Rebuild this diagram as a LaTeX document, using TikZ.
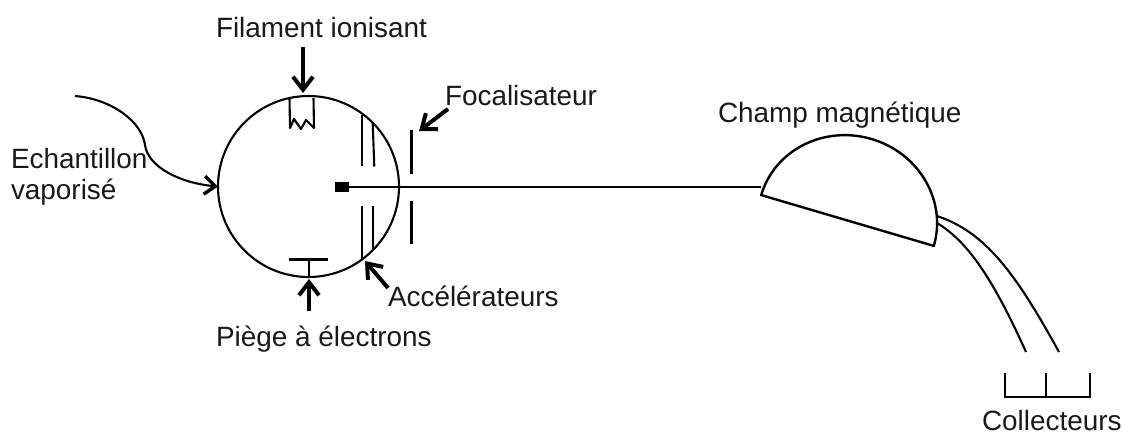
\documentclass[tikz,border=0pt]{standalone}
\usepackage{fontspec}
\setmainfont{Liberation Sans}
\usetikzlibrary{arrows.meta}
\tikzset{
  lab/.style={inner sep=0pt,outer sep=0pt,anchor=base west,align=left,font=\fontsize{27.9}{33}\selectfont,text=black!90},
  thin line/.style={draw=black,line width=2.1pt},
  plate/.style={draw=black,line width=3pt},
  pointer/.style={draw=black,line width=4pt,-{Straight Barb[length=13pt,width=20pt,line width=4pt]}},
  pt/.style={inner sep=0pt,outer sep=0pt,minimum size=0pt}
}
\begin{document}
\begin{tikzpicture}[x=1pt,y=-1pt]
\useasboundingbox (0,0) rectangle (1123,434);
% chamber
\node[circle,thin line,minimum size=181pt,inner sep=0pt,outer sep=0pt] (chamber) at (308.5,186.5) {};
% labels
\node[lab] (filament) at (216,37) {Filament ionisant};
\node[lab] (focal) at (445,105) {Focalisateur};
\node[lab] (champ) at (718,122) {Champ magnétique};
\node[lab] (echan) at (11,168.5) {Echantillon};
\node[lab] (vapor) at (11,199.5) {vaporisé};
\node[lab] (accel) at (388,306) {Accélérateurs};
\node[lab] (piege) at (216,346) {Piège à électrons};
\node[lab] (coll) at (982,430.5) {Collecteurs};
% filament
\coordinate (fa) at (289.5,98);
\coordinate (fb) at (290,128);
\coordinate (fc) at (294,119);
\coordinate (fd) at (301,129);
\coordinate (fe) at (306,120);
\coordinate (ff) at (314,128);
\coordinate (fg) at (313.5,98);
\draw[thin line,line join=round] (fa) -- (fb) -- (fc) -- (fd) -- (fe) -- (ff) -- (fg);
% accelerators
\coordinate (a1t) at (362,115); \coordinate (a1b) at (362,166);
\coordinate (a2t) at (372.7,123); \coordinate (a2b) at (374.3,166.5);
\coordinate (a3t) at (362,206); \coordinate (a3b) at (362,259);
\coordinate (a4t) at (373,206); \coordinate (a4b) at (373,249);
\draw[thin line] (a1t) -- (a1b);
\draw[thin line] (a2t) -- (a2b);
\draw[thin line] (a3t) -- (a3b);
\draw[thin line] (a4t) -- (a4b);
% focusing plates
\coordinate (p1t) at (411,130); \coordinate (p1b) at (411,174);
\coordinate (p2t) at (411,201); \coordinate (p2b) at (411,244);
\draw[plate] (p1t) -- (p1b);
\draw[plate] (p2t) -- (p2b);
% electron trap
\coordinate (tl) at (289,259.5); \coordinate (tr) at (328,259.5);
\coordinate (ts) at (309,259.5); \coordinate (tb) at (309,277);
\draw[thin line] (tl) -- (tr);
\draw[thin line] (ts) -- (tb);
% ion source and beam
\node[pt,fill=black,minimum width=14pt,minimum height=9.5pt] (source) at (342,187) {};
% magnet
\coordinate (m0) at (761.2,195.1);
\coordinate (m1) at (871.5,139);
\coordinate (m2) at (933.8,245.9);
\draw[thin line,line width=2.4pt,line join=round] (m0) .. controls (774.4,150.1) and (823.8,125) .. (m1)
  .. controls (919.2,153) and (947,200.9) .. (m2) -- cycle;
\draw[thin line] (source.east) -- (source.east -| m0) coordinate (beamend);
% ion paths
\coordinate (u0) at (937,216); \coordinate (u1) at (1059,352);
\coordinate (l0) at (937,223); \coordinate (l1) at (1026,352);
\draw[thin line] (u0) .. controls (985,232) and (1015,272) .. (u1);
\draw[thin line] (l0) .. controls (965,240) and (990,272) .. (l1);
% collectors
\coordinate (c1) at (1005,373); \coordinate (c1b) at (1005,397);
\coordinate (c2) at (1046,373); \coordinate (c2b) at (1046,397);
\coordinate (c3) at (1090,373); \coordinate (c3b) at (1090,397);
\draw[thin line] (c1) -- (c1b) -- (c3b) -- (c3);
\draw[thin line] (c2) -- (c2b);
% pointers
\coordinate (fs) at (303,47); \coordinate (ft) at (303,93);
\draw[pointer] (fs) -- (ft);
\coordinate (ps) at (309,311); \coordinate (pe) at (309,279);
\draw[pointer] (ps) -- (pe);
\coordinate (fos) at (448,109); \coordinate (fot) at (419,131);
\draw[pointer] (fos) -- (fot);
\coordinate (as) at (388,288); \coordinate (at) at (365,261);
\draw[pointer] (as) -- (at);
% sample inlet
\coordinate (es) at (75,96);
\coordinate (em) at (145,145);
\draw[thin line,-{Straight Barb[length=11pt,width=18pt,line width=3.4pt]}]
  (es) .. controls (112,99) and (142,122) .. (em)
  .. controls (148,167) and (180,183) .. (chamber.west);
\end{tikzpicture}
\end{document}
